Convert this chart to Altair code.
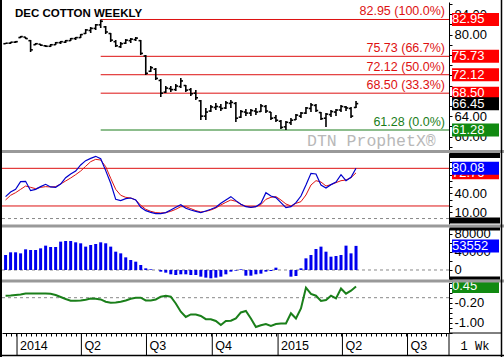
import altair as alt
import pandas as pd

# ---------------- values ----------------
first_week = "2013-12-16"
high = [78.34, 78.54, 78.73, 79.71, 79.52, 78.93, 78.34, 78.14, 77.95, 78.14,
        78.54, 78.73, 78.93, 79.32, 79.52, 80.10, 81.08, 81.48, 82.06, 82.95,
        81.67, 80.30, 78.93, 78.54, 79.12, 79.32, 79.52, 78.93, 75.99, 73.83,
        73.44, 71.28, 69.91, 69.91, 70.30, 71.48, 70.10, 69.52, 69.12, 67.16,
        65.59, 66.18, 66.57, 66.38, 66.97, 67.16, 66.77, 65.20, 65.40, 65.40,
        65.59, 66.38, 66.18, 64.81, 64.22, 63.24, 63.04, 63.63, 64.42, 64.81,
        65.79, 66.57, 66.38, 64.81, 64.61, 65.20, 65.40, 66.18, 65.98, 65.79,
        66.97]
low = [78.14, 78.14, 78.34, 79.32, 79.12, 76.57, 77.95, 77.75, 77.55, 77.55,
       77.95, 78.14, 78.34, 78.73, 78.93, 79.32, 80.10, 80.30, 80.89, 81.28,
       80.10, 78.54, 77.55, 77.36, 78.14, 78.34, 78.73, 75.99, 72.06, 72.65,
       71.08, 67.75, 68.54, 68.73, 68.93, 69.52, 68.73, 67.95, 67.16, 63.24,
       63.24, 64.81, 65.20, 65.01, 65.40, 65.59, 62.85, 63.63, 64.03, 64.03,
       64.22, 64.81, 64.61, 63.24, 62.85, 61.48, 61.28, 62.26, 63.24, 63.63,
       64.42, 64.81, 64.81, 63.24, 61.87, 63.83, 64.03, 64.81, 65.01, 63.63,
       65.59]
open_ = [78.2, 78.3, 78.5, 79.4, 79.5, 78.8, 78.0, 78.1, 77.8, 77.7,
         78.0, 78.4, 78.5, 78.8, 79.2, 79.4, 80.2, 80.8, 81.2, 81.9,
         81.5, 80.2, 78.6, 77.6, 78.3, 78.8, 79.0, 78.8, 75.8, 72.8,
         73.2, 71.0, 68.7, 69.4, 69.2, 69.8, 70.0, 69.2, 68.5, 67.0,
         64.0, 65.0, 65.7, 65.8, 65.6, 66.5, 66.5, 63.8, 64.8, 64.6,
         65.0, 64.9, 65.9, 64.8, 63.7, 63.0, 61.9, 62.7, 63.3, 64.0,
         64.6, 65.5, 66.1, 64.7, 63.6, 64.3, 64.8, 65.2, 65.8, 65.5,
         65.7]
close = [78.3, 78.5, 78.6, 79.6, 79.2, 77.0, 78.2, 77.9, 77.7, 78.0,
         78.4, 78.6, 78.8, 79.2, 79.4, 80.0, 80.9, 81.2, 81.9, 82.6,
         80.5, 78.9, 77.8, 78.2, 78.9, 79.1, 79.3, 76.3, 72.4, 73.5,
         71.4, 68.5, 69.5, 69.2, 69.9, 70.9, 69.1, 68.4, 67.6, 64.0,
         64.8, 65.8, 65.9, 65.5, 66.6, 66.7, 63.6, 64.9, 64.6, 65.1,
         64.8, 66.0, 65.0, 63.6, 63.2, 61.8, 62.8, 63.2, 64.2, 64.6,
         65.6, 66.2, 65.1, 63.5, 64.4, 64.9, 65.2, 65.9, 65.6, 64.0,
         66.45]
stoch_k = [34.9, 42.3, 46.5, 58.7, 59.3, 44.4, 46.5, 50.8, 54.5, 50.3,
           49.7, 55.0, 65.1, 71.0, 75.7, 85.3, 92.2, 95.9, 99.1, 95.4,
           76.3, 56.1, 30.6, 28.5, 31.7, 32.7, 29.6, 17.9, 12.6, 9.9,
           7.8, 7.8, 9.4, 13.6, 17.9, 22.1, 16.3, 13.6, 11.5, 9.4,
           12.0, 14.7, 17.9, 24.2, 29.6, 34.9, 28.5, 22.7, 18.9, 17.9,
           18.9, 24.2, 41.2, 35.9, 33.3, 25.3, 17.3, 18.9, 25.3, 35.9,
           53.4, 72.0, 71.0, 53.4, 48.7, 54.0, 58.2, 69.9, 60.3, 65.6,
           80.08]
stoch_d = [29.6, 37.0, 41.2, 46.5, 51.8, 49.7, 47.6, 49.7, 50.8, 50.3,
           50.8, 55.0, 59.8, 64.6, 69.9, 75.7, 83.2, 90.6, 94.3, 93.2,
           82.6, 64.1, 46.5, 37.0, 33.8, 32.7, 29.6, 21.1, 14.7, 11.5,
           9.4, 8.9, 9.4, 11.5, 14.7, 18.9, 18.9, 15.8, 12.6, 10.4,
           11.5, 13.6, 16.8, 21.6, 25.8, 29.6, 27.4, 22.7, 19.5, 18.4,
           18.9, 22.1, 30.6, 33.8, 34.9, 29.6, 23.2, 20.0, 24.2, 26.9,
           37.5, 53.4, 60.3, 58.2, 51.8, 54.0, 57.2, 60.3, 61.4, 65.1,
           72.76]
cot_net = [33300, 39300, 39300, 37000, 45900, 44400, 44400, 48100, 54100, 51100,
           51100, 63000, 64400, 64400, 61500, 59300, 51900, 55600, 57800, 61500,
           59300, 51900, 40700, 37000, 28100, 22200, 18500, 11100, 3700, 1500,
           0, -3700, -5900, -9600, -11100, -9600, -9600, -11100, -11100, -14800,
           -17000, -18500, -17000, -14800, -9600, -3700, -1500, 1500, -12600, -12600,
           -9600, -8100, -3700, -2200, 5200, 0, 0, -14800, -13300, 3700,
           25900, 33300, 46700, 51900, 40700, 29600, 31100, 33300, 54100, 37000,
           53552]
osc = [0.08, 0.09, 0.11, 0.13, 0.17, 0.17, 0.17, 0.17, 0.17, 0.16,
       0.11, 0.03, -0.05, -0.12, -0.12, -0.11, -0.08, -0.03, -0.04, -0.07,
       -0.16, -0.20, -0.19, -0.16, -0.11, -0.04, 0.0, 0.0, -0.11, -0.11,
       -0.07, 0.04, 0.08, 0.04, -0.23, -0.56, -0.77, -0.67, -0.67, -0.73,
       -0.86, -0.86, -0.93, -1.09, -0.93, -0.92, -0.83, -0.59, -0.53, -0.83,
       -1.17, -1.10, -1.05, -1.13, -1.05, -1.03, -1.03, -0.62, -0.83, -0.43,
       0.40, 0.15, 0.08, -0.13, -0.09, 0.08, -0.03, 0.37, 0.16, 0.28,
       0.45]

quarter_starts = ["2014-01-01", "2014-04-01", "2014-07-01", "2014-10-01",
                  "2015-01-01", "2015-04-01", "2015-07-01"]
quarter_labels = ["2014", "Q2", "Q3", "Q4", "2015", "Q2", "Q3"]

fib_levels = [82.95, 75.73, 72.12, 68.50, 61.28]
fib_pcts = ["100.0%", "66.7%", "50.0%", "33.3%", "0.0%"]

price_tags = [82.95, 75.73, 72.12, 68.50, 66.45, 61.28]
price_tag_kind = ["fib", "fib", "fib", "fib", "last", "base"]
price_axis_labels = [60, 64, 80, 84]
stoch_bands = [20, 80]
stoch_tags = [72.76, 80.08]
stoch_tag_kind = ["d", "k"]
stoch_axis_labels = [10, 40]
cot_tags = [53552]
cot_axis_labels = [0, 40000, 80000]
osc_tags = [0.45]
osc_axis_labels = [-1.0, -0.2]
zero_line = [0]

# ---------------- styling / layout ----------------
FONT = "Liberation Sans"
W, H = 447, 331
RED, GREEN, BLUE = "#dd1111", "#1a7d1a", "#0000cc"
TAG_COLORS = {"fib": "#ff0000", "last": "#000000", "base": "#118a11",
              "d": "#ff0000", "k": "#0000ff", "c": "#0000ff", "o": "#118a11"}

dates = pd.date_range(first_week, periods=len(high), freq="7D")
df = pd.DataFrame({"date": dates, "high": high, "low": low, "open": open_,
                   "close": close, "k": stoch_k, "d": stoch_d, "cot": cot_net, "osc": osc})

xscale = alt.Scale(domain=[alt.DateTime(year=2013, month=12, date=11),
                           alt.DateTime(year=2015, month=8, date=28)])
tick_dates = pd.date_range("2013-12-16", "2015-08-24", freq="7D")
xaxis = alt.Axis(values=[alt.DateTime(year=d.year, month=d.month, date=d.day) for d in tick_dates],
                 labels=False, tickSize=3, grid=False, title=None)


def X(f="date"):
    return alt.X(f"{f}:T", scale=xscale, axis=xaxis)


def make_y(domain, rng, values, labelled, fmt):
    scale = alt.Scale(domain=domain, range=rng, nice=False, zero=False)
    test = " || ".join(f"abs(datum.value - ({v})) < 1e-6" for v in labelled)
    axis = alt.Axis(orient="right", values=values, format=fmt, tickSize=3, grid=False, title=None,
                    labelExpr=f"({test}) ? replace(datum.label, '\u2212', '-') : ''")

    def Y(f):
        return alt.Y(f"{f}:Q", scale=scale, axis=axis)
    return Y


PY = make_y([57.36, 86.38], [148, 0], list(range(58, 88, 2)), price_axis_labels, ".2f")
SY = make_y([-8.7, 104.4], [222, 151], list(range(0, 101, 10)), stoch_axis_labels, ".2f")
CY = make_y([-20000, 93300], [277, 226], list(range(-20000, 90001, 20000)), cot_axis_labels, "d")
OY = make_y([-1.384, 0.616], [330.3, 280.3], [round(-1.4 + 0.2 * i, 1) for i in range(11)],
            osc_axis_labels, ".2f")

one = alt.Data(values=[{}])


def tags(values, texts, kinds, Y):
    t = pd.DataFrame({"v": values, "t": texts, "kind": kinds})
    t["col"] = [TAG_COLORS[k] for k in kinds]
    t["i"] = range(len(t))
    out = []
    for i in range(len(t)):
        b = alt.Chart(t).transform_filter(f"datum.i == {i}")
        out.append(b.mark_tick(thickness=13, opacity=1).encode(
            x=alt.value(473.5), y=Y("v"), size=alt.value(47), color=alt.Color("col:N", scale=None)))
        out.append(b.mark_text(align="left", baseline="middle", color="white", font=FONT, fontSize=13).encode(
            x=alt.value(450), y=Y("v"), text="t:N"))
    return out


def hline(vals, Y, color, dash=None, width=1):
    kw = {"color": color, "strokeWidth": width}
    if dash:
        kw["strokeDash"] = dash
    return alt.Chart(pd.DataFrame({"v": vals})).mark_rule(**kw).encode(y=Y("v"))


# ---------------- price panel ----------------
fib_df = pd.DataFrame({"level": fib_levels, "pct": fib_pcts,
                       "start": df.loc[df["high"].idxmax(), "date"]})
fib_df["label"] = [f"{l:.2f} ({p})" for l, p in zip(fib_levels, fib_pcts)]
fib_color = alt.condition("datum.pct == '0.0%'", alt.value(GREEN), alt.value(RED))

fib_lines = alt.Chart(fib_df).mark_rule(strokeWidth=1).encode(
    x=X("start"), x2=alt.value(W), y=PY("level"), color=fib_color)
fib_text = alt.Chart(fib_df).mark_text(align="right", baseline="alphabetic", dy=-4,
                                       font=FONT, fontSize=12.5).encode(
    x=alt.value(W - 4), y=PY("level"), text="label:N", color=fib_color)
base = alt.Chart(df)
p_rng = base.mark_rule(color="black", strokeWidth=1.6).encode(x=X(), y=PY("high"), y2=alt.Y2("low"))
p_open = base.mark_rule(color="black", strokeWidth=1.6, xOffset=-2.2).encode(
    x=X(), x2=alt.X2("date"), y=PY("open"))
p_close = base.mark_rule(color="black", strokeWidth=1.6, x2Offset=2.2).encode(
    x=X(), x2=alt.X2("date"), y=PY("close"))
price = alt.layer(fib_lines, fib_text, p_rng, p_open, p_close,
                  *tags(price_tags, [f"{v:.2f}" for v in price_tags], price_tag_kind, PY))

# ---------------- stochastic panel ----------------
stoch = alt.layer(
    hline(zero_line, SY, "#888888", [3, 3]),
    hline(stoch_bands, SY, RED),
    base.mark_line(color=RED, strokeWidth=1).encode(x=X(), y=SY("d")),
    base.mark_line(color=BLUE, strokeWidth=1.2).encode(x=X(), y=SY("k")),
    *tags(stoch_tags, [f"{v:.2f}" for v in stoch_tags], stoch_tag_kind, SY))

# ---------------- COT histogram panel ----------------
cot = alt.layer(
    hline(zero_line, CY, "#888888", [3, 3]),
    base.mark_rule(color="#0000ee", strokeWidth=3).encode(x=X(), y=CY("cot"), y2=alt.Y2Datum(0)),
    *tags(cot_tags, [str(v) for v in cot_tags], ["c"], CY))

# ---------------- oscillator panel ----------------
oscp = alt.layer(
    hline(zero_line, OY, "#888888", [3, 3]),
    base.mark_line(color="#1a7f1a", strokeWidth=2).encode(x=X(), y=OY("osc")),
    *tags(osc_tags, [f"{v:.2f}" for v in osc_tags], ["o"], OY))

# ---------------- decorations ----------------
qdf = pd.DataFrame({"q": pd.to_datetime(quarter_starts), "label": quarter_labels})
q_rules = alt.Chart(qdf).mark_rule(color="black").encode(
    x=X("q"), y=alt.value(H), y2=alt.value(H + 22))
q_text = alt.Chart(qdf).mark_text(align="left", baseline="middle", dx=3, font=FONT, fontSize=12.5).encode(
    x=X("q"), y=alt.value(H + 12.5), text="label:N")


def rect(x, x2, y, y2, color):
    return alt.Chart(one).mark_rect(color=color).encode(
        x=alt.value(x), x2=alt.value(x2), y=alt.value(y), y2=alt.value(y2))


def line(x, x2, y, y2, color="black", w=1):
    return alt.Chart(one).mark_rule(color=color, strokeWidth=w).encode(
        x=alt.value(x), x2=alt.value(x2), y=alt.value(y), y2=alt.value(y2))


def label(text, x, y, **kw):
    return alt.Chart(alt.Data(values=[{"t": text}])).mark_text(**kw).encode(
        x=alt.value(x), y=alt.value(y), text="t:N")


decor = [
    rect(-2, 502, 148, 151, "#999999"),
    rect(-2, 502, 222.5, 225.5, "#999999"),
    rect(-2, 502, 277.5, 280.5, "#999999"),
    rect(447.5, 498, 151, 156, "black"),
    rect(447.5, 498, 215.5, 221.5, "black"),
    rect(447.5, 498, 225.5, 228.5, "black"),
    rect(447.5, 498, 274.5, 277.5, "black"),
    line(W, 500, H, H),
    line(W, W, H, H + 22),
    line(-1, -1, -2, 355, w=2),
    line(499.5, 499.5, -2, 355, w=1.5),
    line(-2, 502, 353.5, 353.5, w=1.5),
    q_rules, q_text,
    label("DEC COTTON WEEKLY", 13, 15, align="left", baseline="alphabetic",
          font=FONT, fontSize=11.5, fontWeight="bold", color="black"),
    label("DTN ProphetX\u00ae", 305, 144, align="left", baseline="alphabetic",
          font="Liberation Mono", fontSize=16.5, color="#b8b8b8"),
    label("1 Wk", 473, H + 12.5, align="center", baseline="middle",
          font="Liberation Mono", fontSize=12, color="black"),
]

chart = alt.layer(price, stoch, cot, oscp, *decor).resolve_scale(y="independent").properties(
    width=W, height=H, autosize="none",
    padding={"left": 2, "top": 2, "right": 55, "bottom": 24},
).configure_view(stroke=None).configure_axis(
    labelFont=FONT, labelFontSize=13, labelColor="black", tickColor="black",
    domainColor="black", labelPadding=2, labelOverlap=False, grid=False)

chart.save("out.html", embed_options={"renderer": "svg", "actions": False})
